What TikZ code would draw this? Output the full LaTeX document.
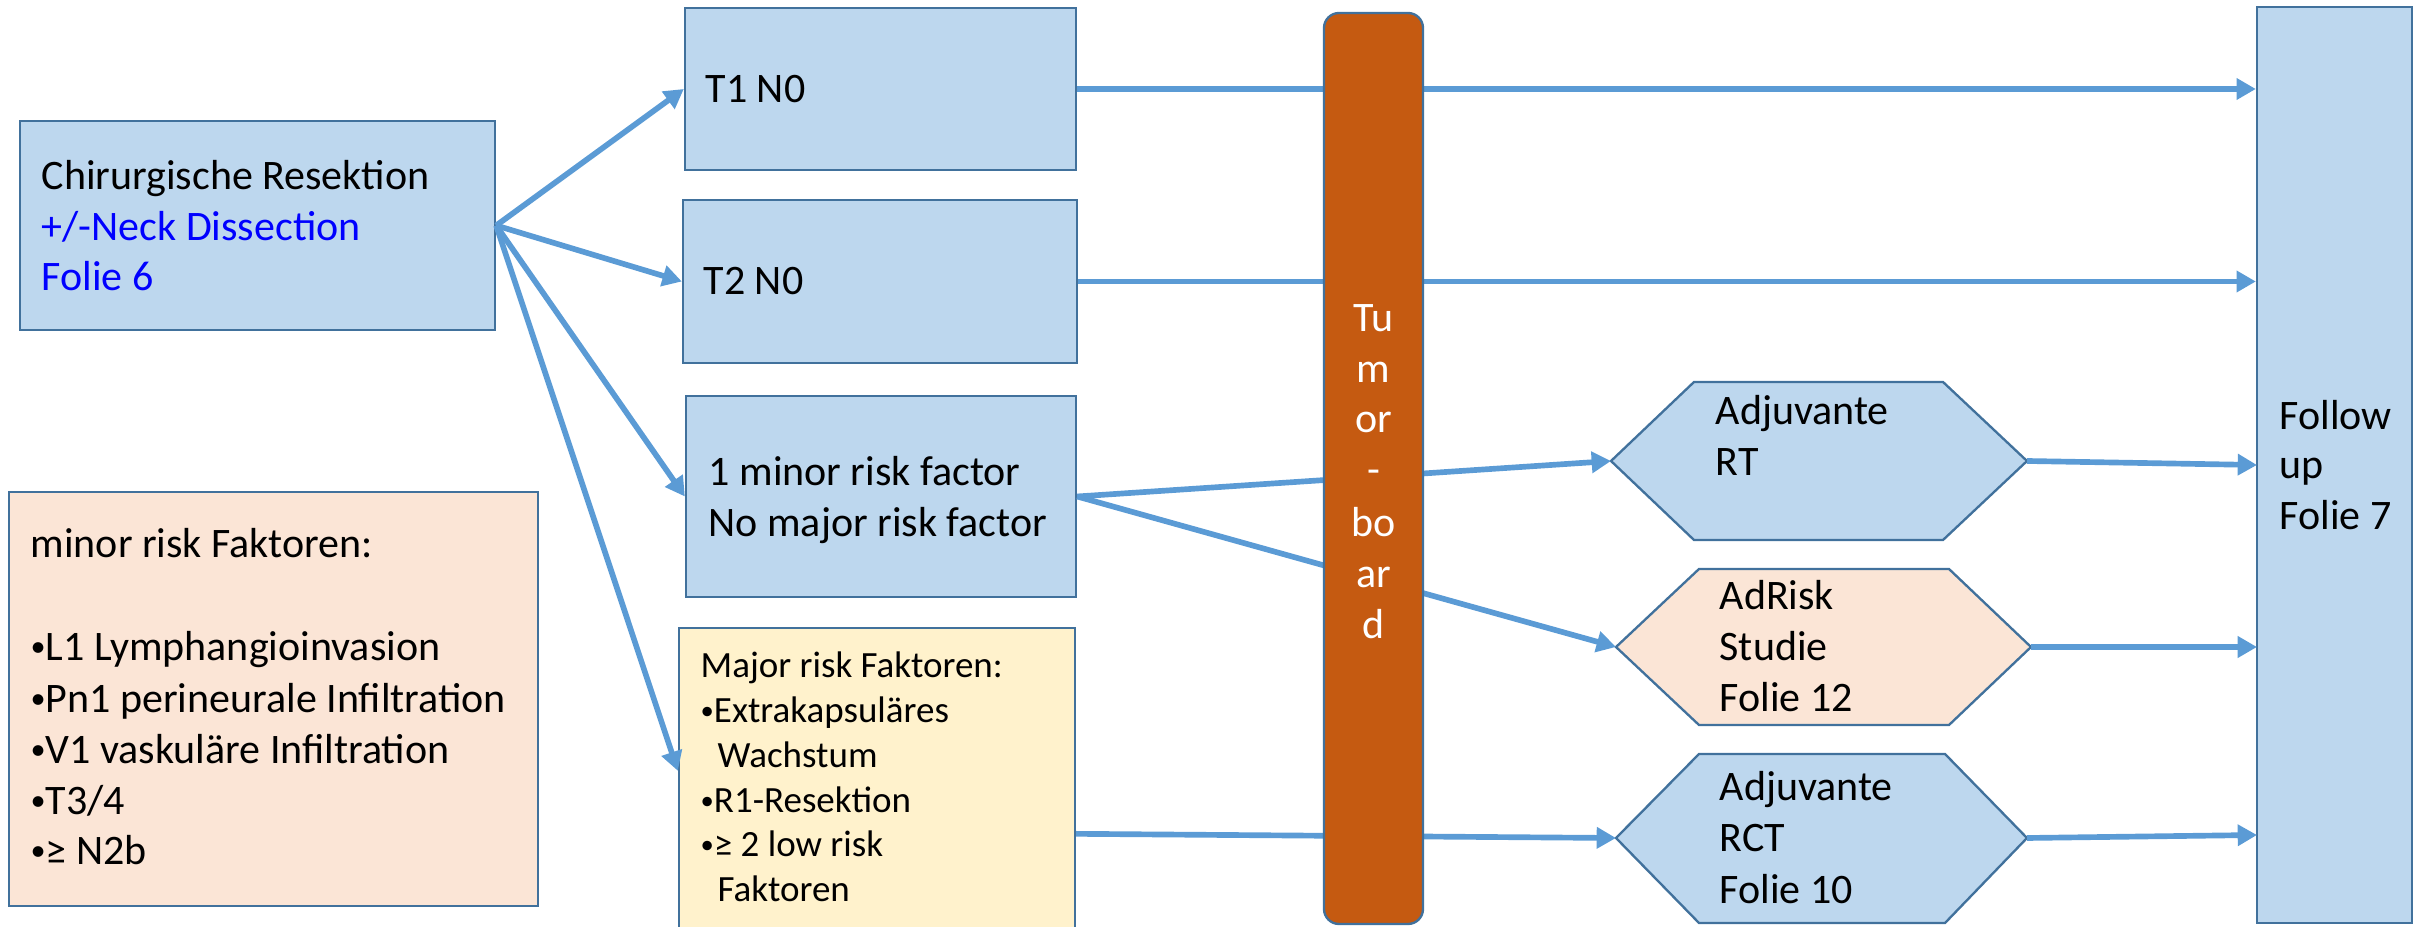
\documentclass[tikz,border=0pt]{standalone}
\usepackage{graphicx}
\usepackage{fontspec}
\setmainfont{Carlito}
\usetikzlibrary{arrows.meta,calc}
\definecolor{boxfill}{HTML}{BDD7EE}
\definecolor{boxline}{HTML}{41719C}
\definecolor{arrowcol}{HTML}{5B9BD5}
\definecolor{peach}{HTML}{FBE5D6}
\definecolor{paleyellow}{HTML}{FFF2CC}
\definecolor{boardfill}{HTML}{C55A11}
\definecolor{linkblue}{HTML}{0000FF}
\newcommand\smallbul{\raisebox{0.1em}{\scalebox{0.72}{•}}}
\tikzset{
  bluebox/.style={draw=boxline, line width=0.7pt, fill=boxfill, inner sep=0pt},
  peachbox/.style={draw=boxline, line width=0.7pt, fill=peach, inner sep=0pt},
  yellowbox/.style={draw=boxline, line width=0.7pt, fill=paleyellow, inner sep=0pt},
  hexshape/.style={draw=boxline, line width=0.7pt, line join=miter},
  boardbox/.style={draw=boxline, line width=0.7pt, fill=boardfill, rounded corners=4.5pt, inner sep=0pt},
  flow/.style={draw=arrowcol, line width=1.7pt, -{Triangle[length=5.8pt,width=6.2pt]}},
  txt/.style={anchor=base west, inner sep=0pt, font=\fontsize{12.6}{15}\selectfont},
  smalltxt/.style={anchor=base west, inner sep=0pt, font=\fontsize{11.1}{13.5}\selectfont},
  boardtxt/.style={anchor=base, inner sep=0pt, text=white, font=\fontsize{12.6}{15}\selectfont},
}
\begin{document}
\begin{tikzpicture}[x=0.3pt,y=-0.3pt]
\useasboundingbox (0,0) rectangle (2425,927);
\clip (0,0) rectangle (2425,927);

% boxes
\node[bluebox, minimum width=142.5pt, minimum height=62.7pt] (chir) at (257.5,225.5) {};
\node[bluebox, minimum width=117.3pt, minimum height=48.6pt] (t1) at (880.5,89) {};
\node[bluebox, minimum width=118.2pt, minimum height=48.9pt] (t2) at (880,281.5) {};
\node[bluebox, minimum width=117pt, minimum height=60.3pt] (mf) at (881,496.5) {};
\node[yellowbox, minimum width=118.8pt, minimum height=93.6pt] (maj) at (877,784) {};
\node[peachbox, minimum width=158.7pt, minimum height=124.2pt] (mrk) at (273.5,699) {};
\node[bluebox, minimum width=46.5pt, minimum height=274.8pt] (fu) at (2334.5,465) {};

% hexagons
\filldraw[hexshape, fill=boxfill] (1611,461) coordinate (rtL) -- (1694,382) -- (1943,382) -- (2027,461) coordinate (rtR) -- (1943,540) -- (1694,540) -- cycle;
\filldraw[hexshape, fill=peach] (1616,647) coordinate (arL) -- (1699,569) -- (1949,569) -- (2031,647) coordinate (arR) -- (1949,725) -- (1699,725) -- cycle;
\filldraw[hexshape, fill=boxfill] (1616,838) coordinate (rcL) -- (1699,754) -- (1945,754) -- (2027,838) coordinate (rcR) -- (1945,923) -- (1699,923) -- cycle;

% target points on the follow-up box
\coordinate (fuA) at (2257,465);
\coordinate (fuB) at (2257,647);
\coordinate (fuC) at (2257,835);

% connectors
\draw[flow] (chir.east) -- (t1.west);
\draw[flow] (chir.east) -- (t2.west);
\draw[flow] (chir.east) -- (mf.west);
\draw[flow] (chir.east) -- ([yshift=-43.2pt]maj.north west);
\draw[flow] (t1.east) -- (t1.east -| fu.west);
\draw[flow] (t2.east) -- (t2.east -| fu.west);
\draw[flow] (mf.east) -- (rtL);
\draw[flow] (mf.east) -- (arL);
\draw[flow] ([yshift=-62.1pt]maj.north east) -- (rcL);
\draw[flow] (rtR) -- (fuA);
\draw[flow] (arR) -- (fuB);
\draw[flow] (rcR) -- (fuC);

% tumor board on top
\node[boardbox, minimum width=29.7pt, minimum height=273.3pt] (tb) at (1373.5,468.5) {};

% texts
\node[txt] (chirA) at (41,190) {Chirurgische Resektion};
\node[txt, text=linkblue] (chirB) at (41,241) {+/-Neck Dissection};
\node[txt, text=linkblue] (chirC) at (41,291) {Folie 6};

\node[txt] (t1A) at (705,103) {T1 N0};
\node[txt] (t2A) at (703,295) {T2 N0};

\node[txt] (mfA) at (708,486) {1 minor risk factor};
\node[txt] (mfB) at (708,537) {No major risk factor};

\node[smalltxt] (majA) at (700,678) {Major risk Faktoren:};
\node[smalltxt] (majB) at (700,723) {\smallbul Extrakapsuläres};
\node[smalltxt] (majC) at (717,768) {Wachstum};
\node[smalltxt] (majD) at (700,813) {\smallbul R1-Resektion};
\node[smalltxt] (majE) at (700,857) {\smallbul≥ 2 low risk};
\node[smalltxt] (majF) at (717,902) {Faktoren};

\node[txt] (mrkA) at (30,558) {minor risk Faktoren:};
\node[txt] (mrkB) at (30,661) {\smallbul L1 Lymphangioinvasion};
\node[txt] (mrkC) at (30,713) {\smallbul Pn1 perineurale Infiltration};
\node[txt] (mrkD) at (30,764) {\smallbul V1 vaskuläre Infiltration};
\node[txt] (mrkE) at (30,815) {\smallbul T3/4};
\node[txt] (mrkF) at (30,865) {\smallbul≥ N2b};

\node[boardtxt] (tbA) at (1373.5,332) {Tu};
\node[boardtxt] (tbB) at (1373.5,383) {m};
\node[boardtxt] (tbC) at (1373.5,433) {or};
\node[boardtxt] (tbD) at (1373.5,484) {-};
\node[boardtxt] (tbE) at (1373.5,537) {bo};
\node[boardtxt] (tbF) at (1373.5,588) {ar};
\node[boardtxt] (tbG) at (1373.5,639) {d};

\node[txt] (rtA) at (1715,425) {Adjuvante};
\node[txt] (rtB) at (1715,476) {RT};
\node[txt] (arA) at (1719,610) {AdRisk};
\node[txt] (arB) at (1719,661) {Studie};
\node[txt] (arC) at (1719,712) {Folie 12};
\node[txt] (rcA) at (1719,801) {Adjuvante};
\node[txt] (rcB) at (1719,852) {RCT};
\node[txt] (rcC) at (1719,904) {Folie 10};

\node[txt] (fuTA) at (2279,430) {Follow};
\node[txt] (fuTB) at (2279,479) {up};
\node[txt] (fuTC) at (2279,530) {Folie 7};
\end{tikzpicture}
\end{document}
